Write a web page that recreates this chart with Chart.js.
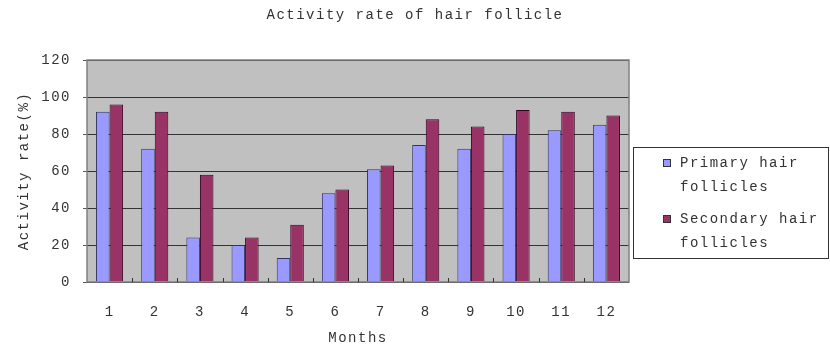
<!DOCTYPE html>
<html>
<head>
<meta charset="utf-8">
<script src="https://cdn.jsdelivr.net/npm/chart.js@4/dist/chart.umd.min.js"></script>
<style>
  html, body { margin: 0; padding: 0; background: #fff; }
  #wrap { width: 830px; height: 349px; }
</style>
</head>
<body>
<div id="wrap"><canvas id="c" width="830" height="349"></canvas></div>
<script>
// Monthly follicle activity rate (%)
const months = ['1', '2', '3', '4', '5', '6', '7', '8', '9', '10', '11', '12'];
const primaryRate = [92, 72, 24, 20, 13, 48, 61, 74, 72, 80, 82, 85];
const secondaryRate = [96, 92, 58, 24, 31, 50, 63, 88, 84, 93, 92, 90];
const yTicks = [0, 20, 40, 60, 80, 100, 120];

const FONT = "'Liberation Mono', 'DejaVu Sans Mono', monospace";
const TEXT = '#333333';
const SPACING = '1.5px';

// Wide, typewriter-like letter spacing for all canvas text
const spacingPlugin = {
  id: 'spacing',
  beforeUpdate(chart) { chart.ctx.letterSpacing = SPACING; },
  beforeLayout(chart) { chart.ctx.letterSpacing = SPACING; },
  beforeDraw(chart) { chart.ctx.letterSpacing = SPACING; }
};

// Grey plot background and frame, inward category tick marks
const plotArea = {
  id: 'plotArea',
  beforeDraw(chart) {
    const { ctx, chartArea: a } = chart;
    ctx.save();
    ctx.fillStyle = '#c0c0c0';
    ctx.fillRect(a.left, a.top, a.right - a.left, a.bottom - a.top);
    ctx.restore();
  },
  afterDraw(chart) {
    const { ctx, chartArea: a, scales } = chart;
    const x = scales.x;
    ctx.save();
    ctx.strokeStyle = '#808080';
    ctx.lineWidth = 1.5;
    ctx.strokeRect(a.left, a.top, a.right - a.left, a.bottom - a.top);
    ctx.strokeStyle = '#333333';
    ctx.lineWidth = 1;
    const step = (a.right - a.left) / months.length;
    for (let i = 1; i < months.length; i++) {
      const px = Math.round(x.getPixelForValue(i) - step / 2) + 0.5;
      ctx.beginPath();
      ctx.moveTo(px, a.bottom);
      ctx.lineTo(px, a.bottom - 4);
      ctx.stroke();
    }
    ctx.restore();
  }
};

// Boxed legend to the right of the plot
const boxLegend = {
  id: 'boxLegend',
  afterDraw(chart) {
    const { ctx } = chart;
    const left = 633, top = 147, right = 828, bottom = 258;
    ctx.save();
    ctx.letterSpacing = SPACING;
    ctx.strokeStyle = '#333333';
    ctx.lineWidth = 1;
    ctx.strokeRect(left + 0.5, top + 0.5, right - left, bottom - top);
    ctx.font = '14px ' + FONT;
    ctx.textBaseline = 'middle';
    ctx.textAlign = 'left';
    chart.data.datasets.forEach((ds, i) => {
      const y0 = 163 + i * 56;
      ctx.fillStyle = ds.backgroundColor;
      ctx.fillRect(663, y0 - 4, 8, 8);
      ctx.strokeStyle = '#333333';
      ctx.strokeRect(663.5, y0 - 3.5, 7, 7);
      ctx.fillStyle = TEXT;
      ds.legendLines.forEach((line, j) => {
        ctx.fillText(line, 680, y0 + j * 24);
      });
    });
    ctx.restore();
  }
};

new Chart(document.getElementById('c'), {
  type: 'bar',
  data: {
    labels: months,
    datasets: [
      {
        label: 'Primary hair follicles',
        legendLines: ['Primary hair', 'follicles'],
        data: primaryRate,
        backgroundColor: '#9999ff',
        borderColor: '#333366',
        borderWidth: 1,
        categoryPercentage: 0.6,
        barPercentage: 1
      },
      {
        label: 'Secondary hair follicles',
        legendLines: ['Secondary hair', 'follicles'],
        data: secondaryRate,
        backgroundColor: '#993366',
        borderColor: '#330022',
        borderWidth: 1,
        categoryPercentage: 0.6,
        barPercentage: 1
      }
    ]
  },
  options: {
    responsive: false,
    animation: false,
    layout: { padding: { left: 0, right: 0, top: 0, bottom: 0 } },
    plugins: {
      legend: { display: false },
      tooltip: { enabled: false },
      title: {
        display: true,
        text: 'Activity rate of hair follicle',
        color: TEXT,
        font: { family: FONT, size: 14, weight: 'normal', lineHeight: 1.2 },
        padding: { top: 7, bottom: 36.2 }
      }
    },
    scales: {
      x: {
        grid: { display: false, drawOnChartArea: false, drawTicks: false },
        border: { display: false },
        ticks: {
          color: TEXT,
          font: { family: FONT, size: 14 },
          padding: 22,
          maxRotation: 0,
          autoSkip: false
        },
        title: {
          display: true,
          text: 'Months',
          color: TEXT,
          font: { family: FONT, size: 14, lineHeight: 1.2 },
          padding: { top: 0, bottom: 2 }
        },
        afterFit(scale) { scale.height = 67; }
      },
      y: {
        min: 0,
        max: 120,
        afterBuildTicks(scale) { scale.ticks = yTicks.map(v => ({ value: v })); },
        grid: {
          color: '#333333',
          lineWidth: 1,
          drawTicks: true,
          tickLength: 4,
          tickColor: '#555555'
        },
        border: { display: false },
        ticks: {
          color: TEXT,
          font: { family: FONT, size: 14 },
          padding: 12
        },
        title: {
          display: true,
          text: 'Activity rate(%)',
          color: TEXT,
          font: { family: FONT, size: 14, lineHeight: 1.2 },
          padding: { top: 16, bottom: 0 }
        },
        afterFit(scale) { scale.width = 87; }
      },
      // empty right-hand band that leaves room for the legend box
      legendSpace: {
        type: 'linear',
        position: 'right',
        min: 0,
        max: 1,
        grid: { display: false, drawTicks: false },
        border: { display: false },
        ticks: { display: false },
        afterFit(scale) { scale.width = 201; }
      }
    }
  },
  plugins: [spacingPlugin, plotArea, boxLegend]
});
</script>
</body>
</html>
